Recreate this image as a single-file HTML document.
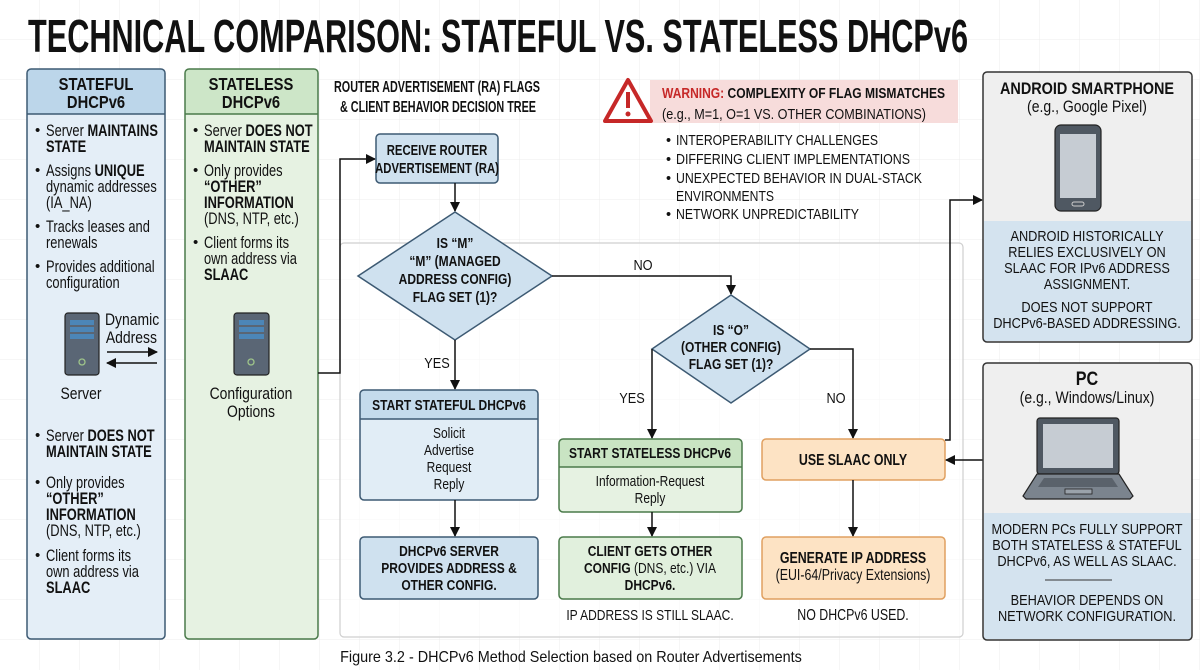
<!DOCTYPE html>
<html><head><meta charset="utf-8"><style>
html,body{margin:0;padding:0;background:#fff}
svg{display:block}
text{font-family:"Liberation Sans",sans-serif;fill:#111}
.b{font-weight:bold}
</style></head><body>
<svg width="1200" height="670" viewBox="0 0 1200 670" xmlns="http://www.w3.org/2000/svg">
<defs>
<pattern id="g" width="40" height="40" patternUnits="userSpaceOnUse"><path d="M40 0V40M0 40H40" stroke="#ececec" stroke-width="1" fill="none"/></pattern>
<marker id="a" markerWidth="10" markerHeight="10" refX="9" refY="5" orient="auto" markerUnits="userSpaceOnUse"><path d="M0 0L10 5L0 10z" fill="#111"/></marker>
</defs>
<rect width="1200" height="670" fill="#fff"/>
<rect width="1200" height="670" fill="url(#g)"/>

<text x="28" y="52" class="b" font-size="46" textLength="940" lengthAdjust="spacingAndGlyphs">TECHNICAL COMPARISON: STATEFUL VS. STATELESS DHCPv6</text>

<!-- Stateful panel -->
<rect x="27" y="69" width="138" height="570" rx="4" fill="#e4eef7"/>
<path d="M27 114V73a4 4 0 0 1 4-4h130a4 4 0 0 1 4 4v41z" fill="#bcd6ea"/>
<line x1="27" y1="114" x2="165" y2="114" stroke="#3d5a73" stroke-width="1.5"/>
<rect x="27" y="69" width="138" height="570" rx="4" fill="none" stroke="#3d5a73" stroke-width="1.5"/>
<g transform="translate(96 0) scale(0.82 1)" text-anchor="middle" font-size="18">
<text x="0" y="90" class="b">STATEFUL</text>
<text x="0" y="108" class="b">DHCPv6</text>
</g>
<g font-size="15">
<text x="35" y="135">•</text><text x="35" y="175">•</text><text x="35" y="231">•</text><text x="35" y="271">•</text>
<text x="35" y="440">•</text><text x="35" y="487">•</text><text x="35" y="560">•</text>
</g>
<g transform="translate(46 0) scale(0.78 1)" font-size="16.5">
<text x="0" y="136">Server <tspan class="b">MAINTAINS</tspan></text><text x="0" y="152" class="b">STATE</text>
<text x="0" y="176">Assigns <tspan class="b">UNIQUE</tspan></text><text x="0" y="192">dynamic addresses</text><text x="0" y="208">(IA_NA)</text>
<text x="0" y="232">Tracks leases and</text><text x="0" y="248">renewals</text>
<text x="0" y="272">Provides additional</text><text x="0" y="288">configuration</text>
<text x="0" y="441">Server <tspan class="b">DOES NOT</tspan></text><text x="0" y="457" class="b">MAINTAIN STATE</text>
<text x="0" y="488">Only provides</text><text x="0" y="504" class="b">“OTHER”</text><text x="0" y="520" class="b">INFORMATION</text><text x="0" y="536">(DNS, NTP, etc.)</text>
<text x="0" y="561">Client forms its</text><text x="0" y="577">own address via</text><text x="0" y="593" class="b">SLAAC</text>
</g>
<g transform="translate(105 0) scale(0.82 1)" font-size="17">
<text x="0" y="325">Dynamic</text><text x="1" y="343">Address</text>
</g>
<g transform="translate(81 0) scale(0.82 1)" text-anchor="middle" font-size="17"><text x="0" y="399">Server</text></g>
<!-- server icon 1 -->
<rect x="65" y="313" width="34" height="62" rx="3" fill="#5a6675" stroke="#222" stroke-width="1.2"/>
<rect x="70" y="320" width="24" height="5" fill="#4c86b8"/><rect x="70" y="327" width="24" height="5" fill="#4c86b8"/><rect x="70" y="334" width="24" height="5" fill="#4c86b8"/>
<circle cx="82" cy="362" r="3" fill="none" stroke="#9ec48a" stroke-width="1.3"/>
<line x1="107" y1="352" x2="157" y2="352" stroke="#111" stroke-width="1.5" marker-end="url(#a)"/>
<line x1="157" y1="363" x2="107" y2="363" stroke="#111" stroke-width="1.5" marker-end="url(#a)"/>

<!-- Stateless panel -->
<rect x="185" y="69" width="133" height="570" rx="4" fill="#e6f2e2"/>
<path d="M185 114V73a4 4 0 0 1 4-4h125a4 4 0 0 1 4 4v41z" fill="#cde6c8"/>
<line x1="185" y1="114" x2="318" y2="114" stroke="#4a7a4a" stroke-width="1.5"/>
<rect x="185" y="69" width="133" height="570" rx="4" fill="none" stroke="#4a7a4a" stroke-width="1.5"/>
<g transform="translate(251 0) scale(0.82 1)" text-anchor="middle" font-size="18">
<text x="0" y="90" class="b">STATELESS</text>
<text x="0" y="108" class="b">DHCPv6</text>
</g>
<g font-size="15"><text x="193" y="135">•</text><text x="193" y="175">•</text><text x="193" y="247">•</text></g>
<g transform="translate(204 0) scale(0.78 1)" font-size="16.5">
<text x="0" y="136">Server <tspan class="b">DOES NOT</tspan></text><text x="0" y="152" class="b">MAINTAIN STATE</text>
<text x="0" y="176">Only provides</text><text x="0" y="192" class="b">“OTHER”</text><text x="0" y="208" class="b">INFORMATION</text><text x="0" y="224">(DNS, NTP, etc.)</text>
<text x="0" y="248">Client forms its</text><text x="0" y="264">own address via</text><text x="0" y="280" class="b">SLAAC</text>
</g>
<g transform="translate(251 0) scale(0.82 1)" text-anchor="middle" font-size="17">
<text x="0" y="399">Configuration</text>
<text x="0" y="417">Options</text>
</g>
<rect x="234" y="313" width="35" height="62" rx="3" fill="#5a6675" stroke="#222" stroke-width="1.2"/>
<rect x="239" y="320" width="25" height="5" fill="#4c86b8"/><rect x="239" y="327" width="25" height="5" fill="#4c86b8"/><rect x="239" y="334" width="25" height="5" fill="#4c86b8"/>
<circle cx="251" cy="362" r="3" fill="none" stroke="#9ec48a" stroke-width="1.3"/>

<!-- RA title -->
<text x="334" y="92" class="b" font-size="15.5" textLength="206" lengthAdjust="spacingAndGlyphs">ROUTER ADVERTISEMENT (RA) FLAGS</text>
<text x="340" y="112" class="b" font-size="15.5" textLength="196" lengthAdjust="spacingAndGlyphs">&amp; CLIENT BEHAVIOR DECISION TREE</text>

<!-- container -->
<rect x="340" y="243" width="623" height="394" rx="4" fill="#fff" fill-opacity="0.6" stroke="#cfcfcf" stroke-width="1.2"/>
<!-- connector stateless -> RA -->
<polyline points="318,373 340,373 340,159 375,159" fill="none" stroke="#111" stroke-width="1.5" marker-end="url(#a)"/>

<!-- warning -->
<rect x="650" y="80" width="308" height="43" fill="#f7dcdb"/>
<path d="M628 80L651 121H605z" fill="#fff" stroke="#c62828" stroke-width="4" stroke-linejoin="round"/>
<rect x="626" y="92" width="4" height="16" fill="#c62828"/><circle cx="628" cy="114" r="2.5" fill="#c62828"/>
<text x="662" y="98" class="b" font-size="14.5" textLength="283" lengthAdjust="spacingAndGlyphs"><tspan style="fill:#c62828">WARNING:</tspan> COMPLEXITY OF FLAG MISMATCHES</text>
<text x="662" y="119" font-size="14.5" textLength="264" lengthAdjust="spacingAndGlyphs">(e.g., M=1, O=1 VS. OTHER COMBINATIONS)</text>
<g font-size="14.5">
<text x="666" y="145">•</text><text x="676" y="145" textLength="202" lengthAdjust="spacingAndGlyphs">INTEROPERABILITY CHALLENGES</text>
<text x="666" y="164">•</text><text x="676" y="164" textLength="234" lengthAdjust="spacingAndGlyphs">DIFFERING CLIENT IMPLEMENTATIONS</text>
<text x="666" y="183">•</text><text x="676" y="183" textLength="246" lengthAdjust="spacingAndGlyphs">UNEXPECTED BEHAVIOR IN DUAL-STACK</text>
<text x="676" y="201" textLength="98" lengthAdjust="spacingAndGlyphs">ENVIRONMENTS</text>
<text x="666" y="219">•</text><text x="676" y="219" textLength="183" lengthAdjust="spacingAndGlyphs">NETWORK UNPREDICTABILITY</text>
</g>

<!-- Receive RA -->
<rect x="376" y="134" width="122" height="49" rx="4" fill="#cfe1ef" stroke="#3d5a73" stroke-width="1.5"/>
<g transform="translate(437 0) scale(0.78 1)" text-anchor="middle" class="b" font-size="14.5">
<text x="0" y="155" class="b">RECEIVE ROUTER</text>
<text x="0" y="173" class="b">ADVERTISEMENT (RA)</text>
</g>
<line x1="455" y1="183" x2="455" y2="211" stroke="#111" stroke-width="1.5" marker-end="url(#a)"/>

<!-- M diamond -->
<path d="M455 212L552 276L455 340L358 276z" fill="#cfe1ef" stroke="#3d5a73" stroke-width="1.5"/>
<g transform="translate(455 0) scale(0.8 1)" text-anchor="middle" font-size="15">
<text x="0" y="248" class="b">IS “M”</text>
<text x="0" y="266" class="b">“M” (MANAGED</text>
<text x="0" y="284" class="b">ADDRESS CONFIG)</text>
<text x="0" y="302" class="b">FLAG SET (1)?</text>
</g>
<polyline points="552,276 731,276 731,294" fill="none" stroke="#111" stroke-width="1.5" marker-end="url(#a)"/>
<g transform="translate(643 0) scale(0.85 1)" text-anchor="middle" font-size="15"><text x="0" y="270">NO</text></g>
<line x1="455" y1="340" x2="455" y2="389" stroke="#111" stroke-width="1.5" marker-end="url(#a)"/>
<g transform="translate(437 0) scale(0.85 1)" text-anchor="middle" font-size="15"><text x="0" y="368">YES</text></g>

<!-- O diamond -->
<path d="M731 295L810 349L731 403L652 349z" fill="#cfe1ef" stroke="#3d5a73" stroke-width="1.5"/>
<g transform="translate(731 0) scale(0.8 1)" text-anchor="middle" font-size="15">
<text x="0" y="335" class="b">IS “O”</text>
<text x="0" y="352" class="b">(OTHER CONFIG)</text>
<text x="0" y="369" class="b">FLAG SET (1)?</text>
</g>
<polyline points="652,349 652,438" fill="none" stroke="#111" stroke-width="1.5" marker-end="url(#a)"/>
<g transform="translate(632 0) scale(0.85 1)" text-anchor="middle" font-size="15"><text x="0" y="403">YES</text></g>
<polyline points="810,349 853,349 853,438" fill="none" stroke="#111" stroke-width="1.5" marker-end="url(#a)"/>
<g transform="translate(836 0) scale(0.85 1)" text-anchor="middle" font-size="15"><text x="0" y="403">NO</text></g>

<!-- Start stateful -->
<rect x="360" y="390" width="178" height="110" rx="4" fill="#e1edf6"/>
<path d="M360 419V394a4 4 0 0 1 4-4h170a4 4 0 0 1 4 4v25z" fill="#c4dbec"/>
<line x1="360" y1="419" x2="538" y2="419" stroke="#3d5a73" stroke-width="1.5"/>
<rect x="360" y="390" width="178" height="110" rx="4" fill="none" stroke="#3d5a73" stroke-width="1.5"/>
<g transform="translate(449 0) scale(0.8 1)" text-anchor="middle" font-size="15">
<text x="0" y="410" class="b">START STATEFUL DHCPv6</text>
<text x="0" y="438">Solicit</text><text x="0" y="455">Advertise</text><text x="0" y="472">Request</text><text x="0" y="489">Reply</text>
</g>
<line x1="455" y1="500" x2="455" y2="536" stroke="#111" stroke-width="1.5" marker-end="url(#a)"/>
<rect x="360" y="537" width="178" height="62" rx="4" fill="#cfe1ef" stroke="#3d5a73" stroke-width="1.5"/>
<g transform="translate(449 0) scale(0.8 1)" text-anchor="middle" font-size="15">
<text x="0" y="556" class="b">DHCPv6 SERVER</text><text x="0" y="573" class="b">PROVIDES ADDRESS &amp;</text><text x="0" y="590" class="b">OTHER CONFIG.</text>
</g>

<!-- Start stateless -->
<rect x="559" y="439" width="183" height="73" rx="4" fill="#e6f2e2"/>
<path d="M559 467V443a4 4 0 0 1 4-4h175a4 4 0 0 1 4 4v24z" fill="#c9e4c3"/>
<line x1="559" y1="467" x2="742" y2="467" stroke="#4a7a4a" stroke-width="1.5"/>
<rect x="559" y="439" width="183" height="73" rx="4" fill="none" stroke="#4a7a4a" stroke-width="1.5"/>
<g transform="translate(650 0) scale(0.8 1)" text-anchor="middle" font-size="15">
<text x="0" y="458" class="b">START STATELESS DHCPv6</text>
<text x="0" y="486">Information-Request</text>
<text x="0" y="503">Reply</text>
</g>
<line x1="652" y1="512" x2="652" y2="536" stroke="#111" stroke-width="1.5" marker-end="url(#a)"/>
<rect x="559" y="537" width="183" height="62" rx="4" fill="#e1f0dd" stroke="#4a7a4a" stroke-width="1.5"/>
<g transform="translate(650 0) scale(0.8 1)" text-anchor="middle" font-size="15">
<text x="0" y="556" class="b">CLIENT GETS OTHER</text>
<text x="0" y="573"><tspan class="b">CONFIG</tspan> (DNS, etc.) VIA</text>
<text x="0" y="590" class="b">DHCPv6.</text>
<text x="0" y="620">IP ADDRESS IS STILL SLAAC.</text>
</g>

<!-- SLAAC -->
<rect x="762" y="439" width="183" height="41" rx="4" fill="#fde3c4" stroke="#e0a060" stroke-width="1.5"/>
<g transform="translate(853 0) scale(0.8 1)" text-anchor="middle" font-size="15.5"><text x="0" y="465" class="b">USE SLAAC ONLY</text></g>
<line x1="853" y1="480" x2="853" y2="536" stroke="#111" stroke-width="1.5" marker-end="url(#a)"/>
<rect x="762" y="537" width="183" height="62" rx="4" fill="#fde3c4" stroke="#e0a060" stroke-width="1.5"/>
<g transform="translate(853 0) scale(0.8 1)" text-anchor="middle" font-size="15.5">
<text x="0" y="563" class="b">GENERATE IP ADDRESS</text>
<text x="0" y="580">(EUI-64/Privacy Extensions)</text>
<text x="0" y="620">NO DHCPv6 USED.</text>
</g>

<polyline points="945,440 950,440 950,200 982,200" fill="none" stroke="#111" stroke-width="1.5" marker-end="url(#a)"/>
<line x1="983" y1="460" x2="946" y2="460" stroke="#111" stroke-width="1.5" marker-end="url(#a)"/>

<!-- Android -->
<rect x="983" y="72" width="209" height="270" rx="4" fill="#efefef"/>
<rect x="984" y="221" width="207" height="120" fill="#d4e3ef"/>
<rect x="983" y="72" width="209" height="270" rx="4" fill="none" stroke="#333" stroke-width="1.5"/>
<g transform="translate(1087 0) scale(0.85 1)" text-anchor="middle">
<text x="0" y="94" class="b" font-size="17">ANDROID SMARTPHONE</text>
<text x="0" y="112" font-size="16.5">(e.g., Google Pixel)</text>
<g font-size="15">
<text x="0" y="241">ANDROID HISTORICALLY</text>
<text x="0" y="257">RELIES EXCLUSIVELY ON</text>
<text x="0" y="273">SLAAC FOR IPv6 ADDRESS</text>
<text x="0" y="289">ASSIGNMENT.</text>
<text x="0" y="312">DOES NOT SUPPORT</text>
<text x="0" y="328">DHCPv6-BASED ADDRESSING.</text>
</g>
</g>
<rect x="1055" y="125" width="46" height="86" rx="6" fill="#4f5862" stroke="#222" stroke-width="1.2"/>
<rect x="1060" y="134" width="36" height="64" fill="#c6ccd3"/>
<rect x="1072" y="202" width="12" height="4" rx="2" fill="none" stroke="#ccc" stroke-width="1"/>

<!-- PC -->
<rect x="983" y="363" width="209" height="277" rx="4" fill="#efefef"/>
<rect x="984" y="513" width="207" height="126" fill="#d4e3ef"/>
<rect x="983" y="363" width="209" height="277" rx="4" fill="none" stroke="#333" stroke-width="1.5"/>
<g transform="translate(1087 0) scale(0.85 1)" text-anchor="middle">
<text x="0" y="385" class="b" font-size="19">PC</text>
<text x="0" y="403" font-size="16.5">(e.g., Windows/Linux)</text>
<g font-size="15">
<text x="0" y="534">MODERN PCs FULLY SUPPORT</text>
<text x="0" y="550">BOTH STATELESS &amp; STATEFUL</text>
<text x="0" y="566">DHCPv6, AS WELL AS SLAAC.</text>
<text x="0" y="605">BEHAVIOR DEPENDS ON</text>
<text x="0" y="621">NETWORK CONFIGURATION.</text>
</g>
</g>
<rect x="1037" y="418" width="82" height="56" rx="3" fill="#4f5862" stroke="#222" stroke-width="1.2"/>
<rect x="1043" y="424" width="70" height="44" fill="#c6ccd3"/>
<path d="M1037 474H1119L1133 496L1130 499H1026L1023 496z" fill="#7b848e" stroke="#222" stroke-width="1.2"/>
<path d="M1044 478H1112L1118 487H1038z" fill="#5a626b"/>
<rect x="1065" y="489" width="27" height="5" fill="#9aa2aa" stroke="#222" stroke-width="0.8"/>
<line x1="1045" y1="580" x2="1112" y2="580" stroke="#333" stroke-width="1"/>

<g transform="translate(571 0) scale(0.9 1)" text-anchor="middle"><text x="0" y="662" font-size="16">Figure 3.2 - DHCPv6 Method Selection based on Router Advertisements</text></g>
</svg>
</body></html>
